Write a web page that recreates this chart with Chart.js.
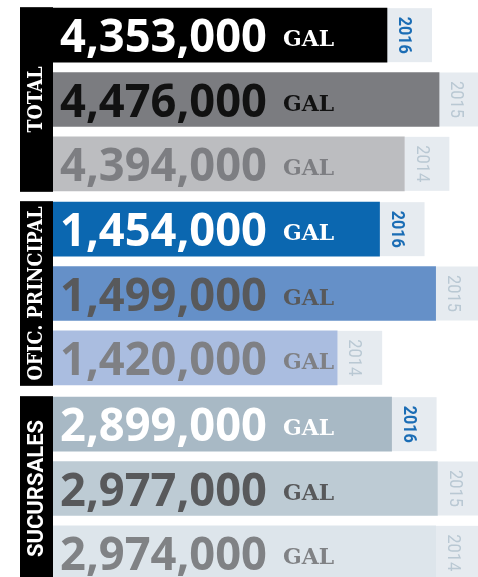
<!DOCTYPE html>
<html>
<head>
<meta charset="utf-8">
<script src="https://cdn.jsdelivr.net/npm/chart.js@4.4.1/dist/chart.umd.min.js"></script>
<style>
  html, body { margin: 0; padding: 0; background: #fff; overflow: hidden; }
  body { width: 478px; height: 577px; position: relative; }
  canvas { position: absolute; left: 0; }
</style>
</head>
<body>
<canvas id="chartTotal" width="478" height="193" style="top:3px"></canvas>
<canvas id="chartOficina" width="478" height="193" style="top:197px"></canvas>
<canvas id="chartSucursales" width="478" height="193" style="top:392px"></canvas>
<script>
/* data */
const years = ['2016', '2015', '2014'];
const totalGal = [4353000, 4476000, 4394000];
const oficinaGal = [1454000, 1499000, 1420000];
const sucursalesGal = [2899000, 2977000, 2974000];
const unit = 'GAL';

/* the original bars don't start at zero, each group has its own hidden axis */
const totalRange = [3564000, 4568000];
const oficinaRange = [1192000, 1533000];
const sucursalesRange = [2323000, 3046000];

/* colours */
const totalColors = ['#000000', '#7b7c80', '#bcbdc0'];
const totalText = ['#ffffff', '#111111', '#7d7e82'];
const oficinaColors = ['#0b67b0', '#6590c8', '#aabde0'];
const oficinaText = ['#ffffff', '#58595b', '#7f8084'];
const sucursalesColors = ['#a8b9c5', '#bdcbd4', '#dde5eb'];
const sucursalesText = ['#ffffff', '#58595b', '#808285'];
const yearColors = ['#1b6db5', '#b9c8d3', '#b9c8d3'];

const slab = '"DejaVu Serif", serif';

/* strip on the left, year tab, value labels */
const decor = {
  id: 'decor',
  beforeDatasetsDraw(chart) {
    const ctx = chart.ctx;
    const bars = chart.getDatasetMeta(0).data;
    ctx.save();
    ctx.fillStyle = '#e6ebf0';
    bars.forEach(bar => {
      ctx.fillRect(bar.x, bar.y - bar.height / 2, 45, bar.height);
    });
    ctx.restore();
  },
  afterDatasetsDraw(chart, args, opts) {
    const ctx = chart.ctx;
    const bars = chart.getDatasetMeta(0).data;
    const values = chart.data.datasets[0].data;
    const left = chart.chartArea.left;

    // group label strip
    const top = bars[0].y - bars[0].height / 2 - 1;
    const last = bars[bars.length - 1];
    const bottom = last.y + last.height / 2 + 1;
    ctx.save();
    ctx.fillStyle = '#000';
    ctx.fillRect(20, top, left - 20, bottom - top);
    ctx.translate(37, (top + bottom) / 2);
    ctx.rotate(-Math.PI / 2);
    ctx.fillStyle = '#fff';
    ctx.textAlign = 'center';
    ctx.textBaseline = 'middle';
    ctx.font = opts.labelFont;
    ctx.fillText(opts.label, 0, 0, opts.labelWidth);
    ctx.restore();

    bars.forEach((bar, i) => {
      ctx.save();
      const num = values[i].toLocaleString('en-US');
      ctx.fillStyle = opts.textColors[i];
      ctx.textBaseline = 'alphabetic';
      ctx.font = 'bold 47px "Open Sans"';
      const x0 = left + 7;
      const w = Math.min(ctx.measureText(num).width, 207);
      ctx.fillText(num, x0, bar.y + 17, 207);
      ctx.font = 'bold 23px ' + slab;
      ctx.fillText(unit, x0 + w + 16, bar.y + 11, 51);

      // year in the tab
      ctx.translate(bar.x + 17, bar.y);
      ctx.rotate(Math.PI / 2);
      ctx.textAlign = 'center';
      ctx.textBaseline = 'middle';
      ctx.fillStyle = yearColors[i];
      ctx.font = (i === 0 ? 'bold ' : '') + '19px Roboto';
      ctx.fillText(chart.data.labels[i], 0, 0, 37);
      ctx.restore();
    });
  }
};

function makeChart(id, label, labelFont, labelWidth, values, range, colors, textColors) {
  return new Chart(document.querySelector(id), {
    type: 'bar',
    data: {
      labels: years,
      datasets: [{
        data: values,
        backgroundColor: colors,
        borderWidth: 0,
        barThickness: 54
      }]
    },
    options: {
      indexAxis: 'y',
      responsive: false,
      animation: false,
      layout: { padding: { left: 53, right: 0, top: 0, bottom: 0 } },
      scales: {
        x: { display: false, min: range[0], max: range[1] },
        y: { display: false }
      },
      plugins: {
        legend: { display: false },
        tooltip: { enabled: false },
        decor: { label, labelFont, labelWidth, textColors }
      }
    },
    plugins: [decor]
  });
}

makeChart('#chartTotal', 'TOTAL', 'bold 20px ' + slab, 66,
  totalGal, totalRange, totalColors, totalText);
makeChart('#chartOficina', 'OFIC. PRINCIPAL', 'bold 20px ' + slab, 174,
  oficinaGal, oficinaRange, oficinaColors, oficinaText);
makeChart('#chartSucursales', 'SUCURSALES', 'bold 22px Roboto', 140,
  sucursalesGal, sucursalesRange, sucursalesColors, sucursalesText);
</script>
</body>
</html>
